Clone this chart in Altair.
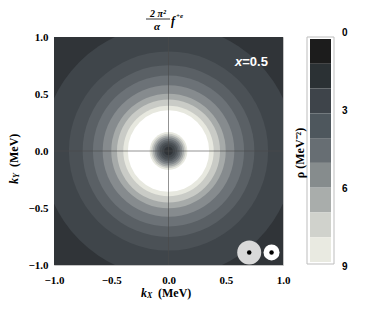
import math
import altair as alt
import pandas as pd

# ---- data ----
# concentric contour bands of rho around the origin: outer radius (MeV) and bin level (9 = above 9)
ring_radius = [1.5, 1.1, 0.87, 0.75, 0.66, 0.575, 0.50, 0.45, 0.395, 0.355,
               0.165, 0.15, 0.135, 0.12, 0.105, 0.09, 0.075, 0.058, 0.038]
ring_level = [0, 1, 2, 3, 4, 5, 6, 7, 8, 9,
              8, 7, 6, 5, 4, 3, 2, 1, 0]
ring_cx = [0.0] * len(ring_radius)
ring_cy = [0.0] * len(ring_radius)

cb_low = [0, 1, 2, 3, 4, 5, 6, 7, 8]
cb_high = [1, 2, 3, 4, 5, 6, 7, 8, 9]
cb_level = [0, 1, 2, 3, 4, 5, 6, 7, 8]
cb_ticks = [0, 3, 6, 9]

axis_ticks = [-1.0, -0.5, 0.0, 0.5, 1.0]
cross_pos = [0.0]

sym_x = [0.705, 0.90]
sym_y = [-0.89, -0.89]
inset_x = [0.74]
inset_y = [0.785]

# ---- styles ----
PLOT_COLORS = ['#303438', '#3f454a', '#4b5156', '#5a6065', '#6c7277', '#868b8e',
               '#a6aaa9', '#c9cbc6', '#e7e8df', '#ffffff']
CB_COLORS = ['#1c1c1c', '#2b3134', '#3e444a', '#4e575d', '#676e73', '#868c8d',
             '#a9adab', '#d0d2cc', '#e9eae1']
SERIF = 'Liberation Serif'
SANS = 'Liberation Sans'

W, H = 229, 228
RMAX = 1.5
XS = alt.Scale(domain=[-1, 1], nice=False, zero=False)
YS = alt.Scale(domain=[-1, 1], nice=False, zero=False)

xaxis = alt.Axis(values=axis_ticks, format='.1f', title=None, ticks=False, domain=False, grid=False,
                 labelFont=SERIF, labelFontWeight='bold', labelFontSize=11, labelColor='black',
                 labelPadding=9, labelFlush=False, labelOverlap=False)
yaxis = alt.Axis(values=axis_ticks, format='.1f', title=None, ticks=False, domain=False, grid=False,
                 labelFont=SERIF, labelFontWeight='bold', labelFontSize=11, labelColor='black',
                 labelPadding=6, labelFlush=False, labelOverlap=False)


def X(f):
    return alt.X(f, scale=XS, axis=xaxis)


def Y(f):
    return alt.Y(f, scale=YS, axis=yaxis)


# Vega symbol size is the squared diameter
rings_df = pd.DataFrame({'cx': ring_cx, 'cy': ring_cy, 'r': ring_radius, 'level': ring_level})
rings = alt.Chart(rings_df).mark_point(filled=True, shape='circle', opacity=1, strokeWidth=0, clip=True).encode(
    x=X('cx:Q'),
    y=Y('cy:Q'),
    size=alt.Size('r:Q', scale=alt.Scale(type='pow', exponent=2, domain=[0, RMAX], clamp=False,
                                         range=[0, (RMAX * W) ** 2]), legend=None),
    color=alt.Color('level:O', scale=alt.Scale(domain=list(range(10)), range=PLOT_COLORS), legend=None),
    order=alt.Order('r:Q', sort='descending'),
)

cross_df = pd.DataFrame({'v': cross_pos})
vrule = alt.Chart(cross_df).mark_rule(color='#4a4a4a', strokeWidth=0.6).encode(x=X('v:Q'))
hrule = alt.Chart(cross_df).mark_rule(color='#4a4a4a', strokeWidth=0.6).encode(y=Y('v:Q'))

sym_df = pd.DataFrame({'x': sym_x, 'y': sym_y})
big = alt.Chart(sym_df.iloc[[0]]).mark_point(filled=True, shape='circle', opacity=1, color='#d9d9d9', size=576).encode(
    x=X('x:Q'), y=Y('y:Q'))
small = alt.Chart(sym_df.iloc[[1]]).mark_point(filled=True, shape='circle', opacity=1, color='white', size=256).encode(
    x=X('x:Q'), y=Y('y:Q'))
dots = alt.Chart(sym_df).mark_point(filled=True, shape='circle', opacity=1, color='black', size=20).encode(
    x=X('x:Q'), y=Y('y:Q'))

inset_df = pd.DataFrame({'x': inset_x, 'y': inset_y})
inset_x_txt = alt.Chart(inset_df).mark_text(
    text='x', font=SANS, fontWeight='bold', fontStyle='italic', fontSize=13, color='white',
    align='right', baseline='middle', dx=-11).encode(x=X('x:Q'), y=Y('y:Q'))
inset_v_txt = alt.Chart(inset_df).mark_text(
    text='=0.5', font=SANS, fontWeight='bold', fontSize=13, color='white',
    align='left', baseline='middle', dx=-11).encode(x=X('x:Q'), y=Y('y:Q'))

main = alt.layer(rings, vrule, hrule, big, small, dots, inset_x_txt, inset_v_txt)

# ---- colour bar ----
cb_df = pd.DataFrame({'lo': cb_low, 'hi': cb_high, 'level': cb_level})
cb_rect = alt.Chart(cb_df).mark_rect().encode(
    y=alt.Y('lo:Q', scale=alt.Scale(domain=[0, 9], range=[2, 225], nice=False, zero=False), axis=None),
    y2='hi:Q',
    x=alt.value(256), x2=alt.value(277),
    color=alt.Color('level:O', scale=alt.Scale(domain=cb_level, range=CB_COLORS), legend=None),
)
cb_labels = alt.Chart(pd.DataFrame({'t': cb_ticks})).mark_text(
    font=SANS, fontWeight='bold', fontSize=10, align='left', baseline='middle', color='black').encode(
    y=alt.Y('t:Q', scale=alt.Scale(domain=[0, 9], range=[-4, 230], nice=False, zero=False), axis=None),
    x=alt.value(288), text='t:Q')

one = pd.DataFrame({'d': [0]})
cb_frame = alt.Chart(one).mark_rect(fill=None, stroke='#bdbdbd', strokeWidth=1).encode(
    x=alt.value(253), x2=alt.value(280), y=alt.value(0), y2=alt.value(227))


def txt(s, x, y, size=11, font=SERIF, style='normal', weight='bold', angle=0, align='center'):
    return alt.Chart(one).mark_text(text=s, font=font, fontSize=size, fontStyle=style, fontWeight=weight,
                                    angle=angle, align=align, baseline='middle', color='black').encode(
        x=alt.value(x), y=alt.value(y))


frac_bar = alt.Chart(one).mark_rule(color='black', strokeWidth=0.8).encode(
    x=alt.value(92), x2=alt.value(116), y=alt.value(-18))

annots = [
    txt('2 π²', 104, -23, size=10, style='italic'),
    frac_bar,
    txt('α', 103, -10, size=11, style='italic'),
    txt('f', 117, -16, size=12, style='italic', align='left'),
    txt('+e', 122, -21, size=7, style='italic', align='left'),
    txt('k', 87, 256, size=12, style='italic', align='left'),
    txt('X', 93, 259, size=8, style='italic', align='left'),
    txt('(MeV)', 104, 256, size=12, align='left'),
    txt('k', -40, 147, size=12, style='italic', angle=270, align='left'),
    txt('Y', -37, 141, size=8, style='italic', angle=270, align='left'),
    txt('(MeV)', -40, 130, size=12, angle=270, align='left'),
    txt('ρ (MeV⁻²)', 246, 116, size=12, angle=270, align='center'),
]

chart = alt.layer(main, cb_rect, cb_frame, cb_labels, *annots).resolve_scale(
    y='independent', color='independent'
).properties(
    width=W, height=H,
    autosize=alt.AutoSizeParams(type='none'),
    padding={'left': 46, 'top': 29, 'right': 83, 'bottom': 36},
).configure_view(stroke='#c4c4c4', strokeWidth=1)

chart.save("out.html", embed_options={"renderer": "svg", "actions": False})
